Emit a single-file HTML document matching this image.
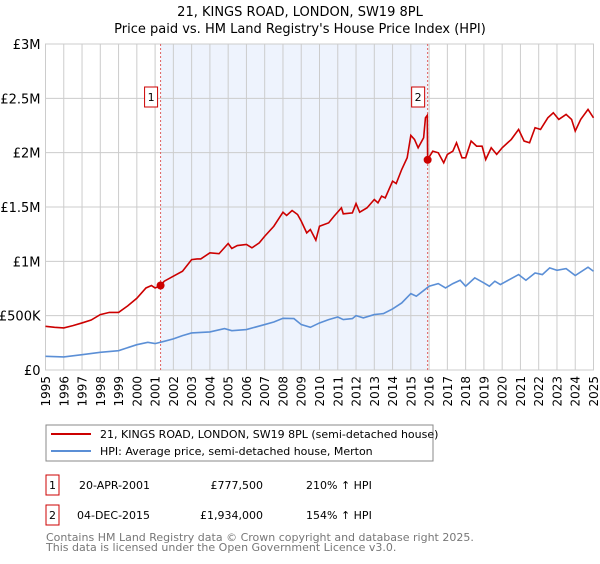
<!DOCTYPE html>
<html><head><meta charset="utf-8"><style>
body{margin:0;background:#fff;width:600px;height:560px;overflow:hidden;font-family:"DejaVu Sans","Liberation Sans",sans-serif}
svg text{font-family:"DejaVu Sans","Liberation Sans",sans-serif}
</style></head><body>
<svg id="c" width="600" height="560">
<text x="300" y="16" text-anchor="middle" font-size="13">21, KINGS ROAD, LONDON, SW19 8PL</text>
<text x="300" y="33" text-anchor="middle" font-size="13">Price paid vs. HM Land Registry's House Price Index (HPI)</text>
<g id="grid"></g><g id="series"></g><g id="axes"></g>
<g>
<rect x="46" y="425" width="387" height="36" fill="#fff" stroke="#888"/>
<line x1="51" y1="434" x2="91" y2="434" stroke="#cc0000" stroke-width="2"/>
<text x="100" y="438" font-size="11">21, KINGS ROAD, LONDON, SW19 8PL (semi-detached house)</text>
<line x1="51" y1="451" x2="91" y2="451" stroke="#5b8fd6" stroke-width="2"/>
<text x="100" y="455" font-size="11">HPI: Average price, semi-detached house, Merton</text>
</g>
<g font-size="11">
<rect x="46" y="475" width="13" height="20" fill="#fff" stroke="#cc0000"/>
<text x="52.5" y="489" text-anchor="middle">1</text>
<text x="79" y="489">20-APR-2001</text>
<text x="263" y="489" text-anchor="end">£777,500</text>
<text x="306" y="489">210% ↑ HPI</text>
<rect x="46" y="505" width="13" height="20" fill="#fff" stroke="#cc0000"/>
<text x="52.5" y="519" text-anchor="middle">2</text>
<text x="77" y="519">04-DEC-2015</text>
<text x="263" y="519" text-anchor="end">£1,934,000</text>
<text x="306" y="519">154% ↑ HPI</text>
</g>
<text x="46" y="541" font-size="11" fill="#777">Contains HM Land Registry data © Crown copyright and database right 2025.</text>
<text x="46" y="551" font-size="11" fill="#777">This data is licensed under the Open Government Licence v3.0.</text>
</svg>
<script>
const yTicks=[0,500000,1000000,1500000,2000000,2500000,3000000];
const yTickLabels=["£0","£500K","£1M","£1.5M","£2M","£2.5M","£3M"];
const xYears=[1995,1996,1997,1998,1999,2000,2001,2002,2003,2004,2005,2006,2007,2008,2009,2010,2011,2012,2013,2014,2015,2016,2017,2018,2019,2020,2021,2022,2023,2024,2025];
const saleDates=[2001.3,2015.92];
const salePrices=[777500,1934000];
const saleLabels=["1","2"];
const redT=[1995,1995.5,1996,1996.5,1997,1997.5,1998,1998.5,1999,1999.5,2000,2000.5,2000.8,2001,2001.3,2001.5,2002,2002.5,2003,2003.3,2003.5,2004,2004.5,2005,2005.2,2005.5,2006,2006.3,2006.7,2007,2007.5,2008,2008.2,2008.5,2008.8,2009,2009.3,2009.5,2009.8,2010,2010.5,2010.8,2011.2,2011.3,2011.8,2012,2012.2,2012.6,2013,2013.2,2013.4,2013.6,2014,2014.2,2014.5,2014.8,2015,2015.2,2015.4,2015.7,2015.8,2015.9,2015.92,2016.2,2016.5,2016.8,2017,2017.3,2017.5,2017.8,2018,2018.3,2018.6,2018.9,2019.1,2019.4,2019.7,2020,2020.5,2020.9,2021.2,2021.5,2021.8,2022.1,2022.5,2022.8,2023.1,2023.5,2023.8,2024,2024.3,2024.7,2025];
const redV=[402,393,387,408,433,460,510,530,530,590,660,755,777,755,777,817,863,909,1016,1022,1022,1078,1070,1164,1118,1145,1155,1124,1170,1231,1323,1452,1422,1468,1431,1370,1262,1293,1195,1323,1354,1416,1492,1437,1446,1532,1452,1492,1569,1538,1600,1584,1738,1716,1845,1953,2159,2122,2045,2137,2321,2343,1937,2014,1999,1907,1984,2014,2091,1953,1953,2107,2060,2060,1937,2045,1984,2045,2122,2214,2107,2091,2229,2214,2321,2367,2306,2352,2306,2199,2306,2398,2321];
const blueT=[1995,1996,1997,1998,1999,2000,2000.6,2001,2001.5,2002,2002.5,2003,2004,2004.8,2005.2,2006,2007,2007.5,2008,2008.6,2009,2009.5,2010,2010.5,2011,2011.3,2011.8,2012,2012.4,2013,2013.5,2014,2014.5,2015,2015.3,2015.7,2016,2016.5,2016.9,2017.3,2017.7,2018,2018.5,2019,2019.3,2019.6,2019.9,2020.4,2020.9,2021.3,2021.8,2022.2,2022.6,2023,2023.5,2024,2024.7,2025];
const blueV=[126,120,141,163,178,233,255,243,264,286,316,341,350,381,362,372,418,442,476,473,418,393,433,464,488,464,473,500,479,510,519,562,617,703,679,731,771,795,755,795,826,771,848,801,771,817,786,832,878,826,893,878,940,918,933,869,946,909];
const L=45.5,R=593.5,T=44,B=370;
const X=t=>L+(t-1995)/30*(R-L);
const Y=v=>B-v/3000000*(B-T);
const NS="http://www.w3.org/2000/svg";
function mk(p,tag,a){const e=document.createElementNS(NS,tag);for(const k in a)e.setAttribute(k,a[k]);p.appendChild(e);return e;}
const grid=document.getElementById('grid'),ser=document.getElementById('series'),ax=document.getElementById('axes');
let sh=mk(grid,'rect',{x:X(saleDates[0]),y:T,width:X(saleDates[1])-X(saleDates[0]),height:B-T,fill:'#eef3fd'});


xYears.forEach(y=>{let l=mk(grid,'line',{x1:X(y),x2:X(y),y1:T,y2:B,stroke:'#cccccc'});


let t=mk(ax,'text',{x:0,y:0,'font-size':12,'text-anchor':'end',transform:`translate(${X(y)+4.5},${B+6}) rotate(-90)`});t.textContent=y;

});
yTicks.forEach((v,i)=>{let l=mk(grid,'line',{x1:L,x2:R,y1:Y(v),y2:Y(v),stroke:'#cccccc'});


let t=mk(ax,'text',{x:L-5,y:Y(v)+5,'font-size':13,'text-anchor':'end'});t.textContent=yTickLabels[i];

});
let bx=mk(grid,'rect',{x:L,y:T,width:R-L,height:B-T,fill:'none',stroke:'#cccccc'});


saleDates.forEach((d,i)=>{let l=mk(ser,'line',{x1:X(d),x2:X(d),y1:T,y2:B,stroke:'#e06060','stroke-dasharray':'2,2'});

});
let pb=mk(ser,'polyline',{points:blueT.map((t,i)=>X(t)+','+Y(blueV[i]*1000)).join(' '),fill:'none',stroke:'#5b8fd6','stroke-width':1.6});


let pr=mk(ser,'polyline',{points:redT.map((t,i)=>X(t)+','+Y(redV[i]*1000)).join(' '),fill:'none',stroke:'#cc0000','stroke-width':1.6});


saleDates.forEach((d,i)=>{let c=mk(ser,'circle',{cx:X(d),cy:Y(salePrices[i]),r:4,fill:'#cc0000'});


let r=mk(ser,'rect',{x:X(d)-16,y:87,width:13,height:20,fill:'#fff',stroke:'#cc0000'});


let t=mk(ser,'text',{x:X(d)-9.5,y:101,'font-size':11,'text-anchor':'middle'});t.textContent=saleLabels[i];

});
</script>
</body></html>
